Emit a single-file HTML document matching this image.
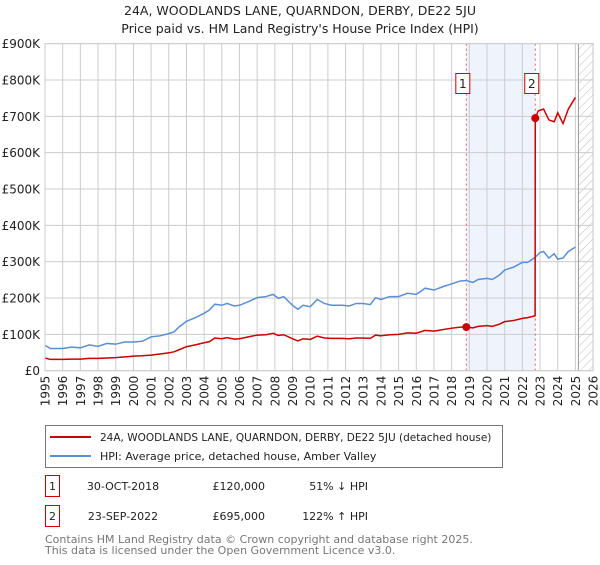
<!DOCTYPE html>
<html><head><meta charset="utf-8"><style>
body{margin:0;background:#fff;font-family:"Liberation Sans","DejaVu Sans",sans-serif;}
svg text{font-family:"DejaVu Sans","Liberation Sans",sans-serif;}
</style></head><body>
<svg id="c" width="600" height="560" viewBox="0 0 600 560" xmlns="http://www.w3.org/2000/svg">
<defs><pattern id="hatch" width="6" height="6" patternUnits="userSpaceOnUse" patternTransform="rotate(45)"><line x1="0" y1="0" x2="0" y2="6" stroke="#bbb" stroke-width="1"/></pattern></defs>
<text x="300" y="15" text-anchor="middle" font-size="12.5" fill="#222">24A, WOODLANDS LANE, QUARNDON, DERBY, DE22 5JU</text>
<text x="300" y="33" text-anchor="middle" font-size="12.5" fill="#222">Price paid vs. HM Land Registry's House Price Index (HPI)</text>
<g id="plot"></g>
<rect x="45.5" y="425.5" width="457" height="42" fill="#fff" stroke="#777"/>
<line x1="50" y1="437" x2="91" y2="437" stroke="#cc0000" stroke-width="2"/>
<text x="100" y="441" font-size="10.5" fill="#222">24A, WOODLANDS LANE, QUARNDON, DERBY, DE22 5JU (detached house)</text>
<line x1="50" y1="456" x2="91" y2="456" stroke="#5b8fd4" stroke-width="2"/>
<text x="100" y="460" font-size="11" fill="#222">HPI: Average price, detached house, Amber Valley</text>
<g font-size="11" fill="#222">
<rect x="45.5" y="475.5" width="14" height="21" fill="#fff" stroke="#cc0000"/>
<text x="52.5" y="490" text-anchor="middle">1</text>
<text x="123" y="490" text-anchor="middle">30-OCT-2018</text>
<text x="265" y="490" text-anchor="end">£120,000</text>
<text x="368" y="490" text-anchor="end">51% ↓ HPI</text>
<rect x="45.5" y="505.5" width="14" height="21" fill="#fff" stroke="#cc0000"/>
<text x="52.5" y="520" text-anchor="middle">2</text>
<text x="123" y="520" text-anchor="middle">23-SEP-2022</text>
<text x="265" y="520" text-anchor="end">£695,000</text>
<text x="368" y="520" text-anchor="end">122% ↑ HPI</text>
</g>
<text x="45" y="543" font-size="11" fill="#777">Contains HM Land Registry data © Crown copyright and database right 2025.</text>
<text x="45" y="554" font-size="11" fill="#777">This data is licensed under the Open Government Licence v3.0.</text>
</svg>
<script>
const yTicks=[0,100,200,300,400,500,600,700,800,900];
const yTickLabels=["£0","£100K","£200K","£300K","£400K","£500K","£600K","£700K","£800K","£900K"];
const xTicks=[1995,1996,1997,1998,1999,2000,2001,2002,2003,2004,2005,2006,2007,2008,2009,2010,2011,2012,2013,2014,2015,2016,2017,2018,2019,2020,2021,2022,2023,2024,2025,2026];
const hpiYears=[1995,1995.3,1996,1996.5,1997,1997.5,1998,1998.5,1999,1999.5,2000,2000.5,2001,2001.5,2002,2002.3,2002.6,2003,2003.5,2004,2004.3,2004.6,2005,2005.3,2005.7,2006,2006.5,2007,2007.5,2007.9,2008.2,2008.5,2009,2009.3,2009.6,2010,2010.4,2010.8,2011.2,2011.8,2012.2,2012.6,2013,2013.4,2013.7,2014,2014.5,2015,2015.5,2016,2016.5,2017,2017.5,2018,2018.5,2018.83,2019.2,2019.5,2020,2020.3,2020.7,2021,2021.5,2022,2022.3,2022.7,2023,2023.2,2023.5,2023.8,2024,2024.3,2024.6,2025];
const hpiValues=[70,61,61,65,63,71,67,75,73,79,79,81,93,96,102,107,121,136,146,158,167,183,180,185,178,180,190,201,204,210,199,204,180,169,180,176,196,185,180,180,178,185,185,182,201,196,204,204,213,210,227,222,231,239,247,248,243,251,254,251,263,277,285,298,298,311,325,328,310,322,307,310,328,340];
const priceYears=[1995,1995.3,1996,1996.5,1997,1997.5,1998,1998.5,1999,1999.5,2000,2000.5,2001,2001.5,2002,2002.3,2002.6,2003,2003.5,2004,2004.3,2004.6,2005,2005.3,2005.7,2006,2006.5,2007,2007.5,2007.9,2008.2,2008.5,2009,2009.3,2009.6,2010,2010.4,2010.8,2011.2,2011.8,2012.2,2012.6,2013,2013.4,2013.7,2014,2014.5,2015,2015.5,2016,2016.5,2017,2017.5,2018,2018.5,2018.83,2019.2,2019.5,2020,2020.3,2020.7,2021,2021.5,2022,2022.3,2022.72,2022.73,2022.9,2023.2,2023.5,2023.8,2024,2024.3,2024.6,2025];
const priceValues=[35,31,31,32,32,34,34,35,36,38,40,41,43,46,49,52,58,66,71,77,80,90,88,91,87,88,93,98,99,103,97,99,88,82,88,86,95,90,89,89,88,90,90,89,98,96,99,100,104,103,111,109,113,117,120,120,118,122,124,122,128,135,138,144,146,151,695,715,720,690,685,710,680,720,752];
const saleYears=[2018.83,2022.73];
const saleValues=[120,695];
const saleLabels=["1","2"];
const NS="http://www.w3.org/2000/svg";
const X0=45,XS=17.68,Y0=370.7,YS=0.3634;
const xs=y=>X0+(y-1995)*XS, ys=v=>Y0-v*YS;
const g=document.getElementById('plot');
function mk(t,a){const e=document.createElementNS(NS,t);for(const k in a)e.setAttribute(k,a[k]);g.appendChild(e);return e;}
const plotLeft=xs(1995),plotRight=xs(2026),plotTop=ys(900);
mk('rect',{x:xs(saleYears[0]),y:plotTop,width:xs(saleYears[1])-xs(saleYears[0]),height:Y0-plotTop,fill:'#eef3fc'});
mk('rect',{x:xs(2025.17),y:plotTop,width:plotRight-xs(2025.17),height:Y0-plotTop,fill:'url(#hatch)'});
xTicks.forEach(t=>{const l=mk('line',{x1:xs(t),x2:xs(t),y1:plotTop,y2:Y0,stroke:'#ccc'});


const tx=mk('text',{x:0,y:0,'font-size':12,fill:'#222','text-anchor':'end',transform:`translate(${xs(t)+4.5},${Y0+5}) rotate(-90)`});tx.textContent=t;

});
yTicks.forEach((t,i)=>{const l=mk('line',{x1:plotLeft,x2:plotRight,y1:ys(t),y2:ys(t),stroke:'#ccc'});


const tx=mk('text',{x:plotLeft-5,y:ys(t)+4.5,'font-size':12,fill:'#222','text-anchor':'end'});tx.textContent=yTickLabels[i];

});
mk('line',{x1:xs(2025.17),x2:xs(2025.17),y1:plotTop,y2:Y0,stroke:'#999'});
saleYears.forEach((s,i)=>{const l=mk('line',{x1:xs(s),x2:xs(s),y1:plotTop,y2:Y0,stroke:'#e06060','stroke-dasharray':'2,3'});


const r=mk('rect',{x:xs(s)-10.5,y:73.5,width:14,height:20,fill:'#fff',stroke:'#cc0000'});


const tx=mk('text',{x:xs(s)-3.5,y:88,'font-size':12,fill:'#222','text-anchor':'middle'});tx.textContent=saleLabels[i];

});
const hp=mk('polyline',{points:hpiYears.map((y,i)=>xs(y)+','+ys(hpiValues[i])).join(' '),fill:'none',stroke:'#5b8fd4','stroke-width':1.5});


const pp=mk('polyline',{points:priceYears.map((y,i)=>xs(y)+','+ys(priceValues[i])).join(' '),fill:'none',stroke:'#cc0000','stroke-width':1.5});


saleYears.forEach((s,i)=>{const c=mk('circle',{cx:xs(s),cy:ys(saleValues[i]),r:4,fill:'#cc0000'});

});
const b=mk('rect',{x:plotLeft,y:plotTop,width:plotRight-plotLeft,height:Y0-plotTop,fill:'none',stroke:'#ccc'});


</script>
</body></html>
